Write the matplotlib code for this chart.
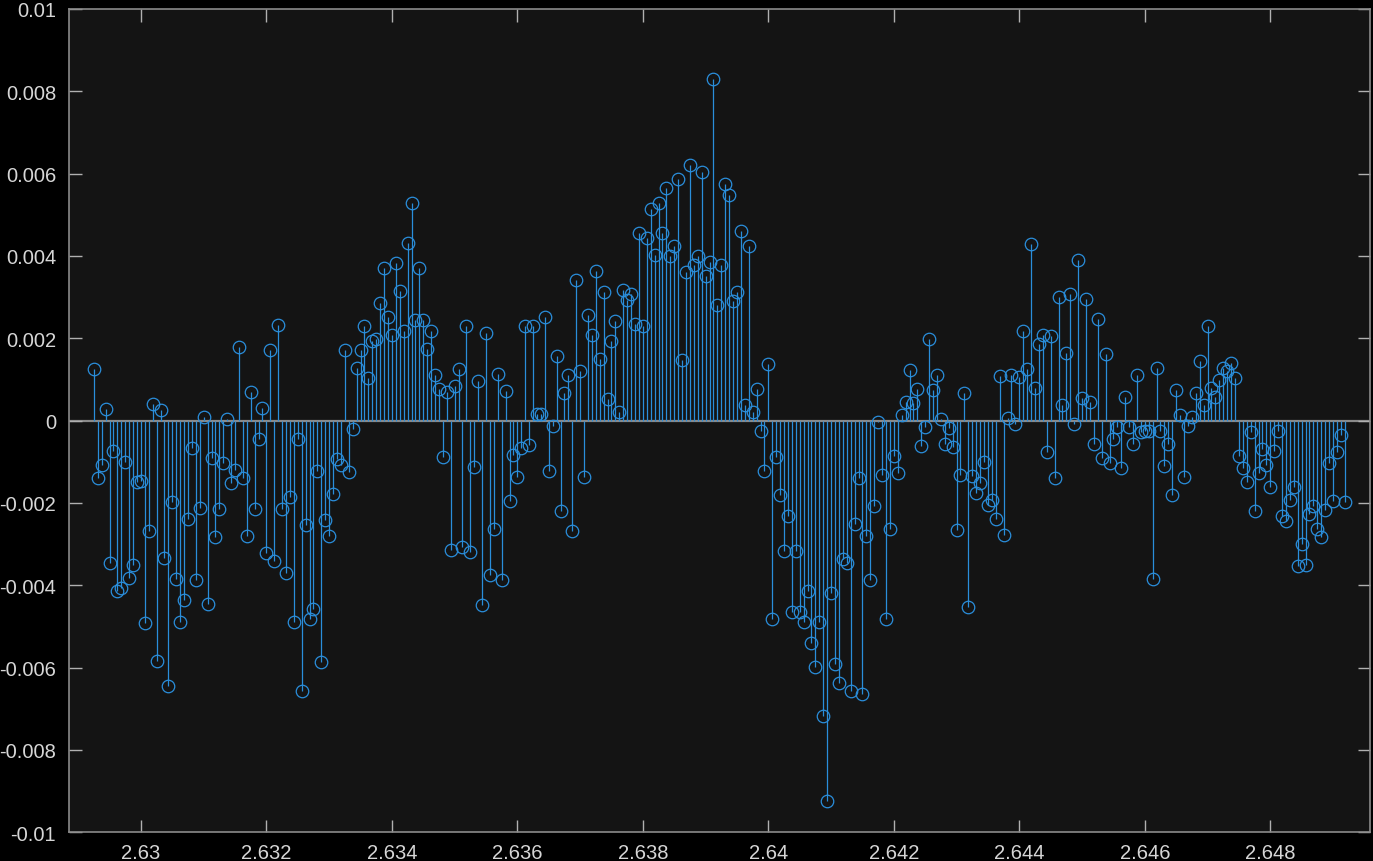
import numpy as np
import matplotlib.pyplot as plt

# signal window: 320 samples at 16 kHz, starting at t = 2.62925 s
T_START = 2.62925
FS = 16000

amp_a = [0.00125, -0.00139, -0.00108, 0.000275, -0.00346, -0.00074, -0.00415, -0.00407,
         -0.00101, -0.00382, -0.00351, -0.00148, -0.00147, -0.00491, -0.00268, 0.0004,
         -0.00584, 0.00026, -0.00334, -0.00645, -0.00198, -0.00385, -0.00489, -0.00436,
         -0.00239, -0.00067, -0.00387, -0.00211, 0.00009, -0.00445, -0.00091, -0.00283,
         -0.00215, -0.00103, 0.00004, -0.00151, -0.00121, 0.0018, -0.00139, -0.0028]
amp_b = [0.00069, -0.00215, -0.00045, 0.0003, -0.00321, 0.00172, -0.00342, 0.00232,
         -0.00215, -0.0037, -0.00185, -0.00489, -0.00045, -0.00657, -0.00253, -0.00482,
         -0.00457, -0.00122, -0.00586, -0.00241, -0.0028, -0.00177, -0.00093, -0.00108,
         0.00172, -0.00125, -0.0002, 0.00127, 0.00172, 0.00229, 0.00103, 0.00194,
         0.00198, 0.00287, 0.0037, 0.00252, 0.00208, 0.00384, 0.00314, 0.00217]
amp_c = [0.00431, 0.00528, 0.00244, 0.0037, 0.00244, 0.00175, 0.00217, 0.00112,
         0.00076, -0.00088, 0.00069, -0.00314, 0.00085, 0.00125, -0.00306, 0.0023,
         -0.00319, -0.00113, 0.00097, -0.00447, 0.00214, -0.00374, -0.00264, 0.00114,
         -0.00386, 0.00073, -0.00195, -0.00083, -0.00136, -0.00066, 0.00231, -0.00058,
         0.0023, 0.00015, 0.00015, 0.00251, -0.00123, -0.00014, 0.00157, -0.0022]
amp_d = [0.00067, 0.0011, -0.00268, 0.00341, 0.0012, -0.00138, 0.00256, 0.00208,
         0.00363, 0.00149, 0.00312, 0.00052, 0.00193, 0.00242, 0.0002, 0.00317,
         0.00294, 0.00307, 0.00235, 0.00457, 0.0023, 0.00444, 0.00514, 0.00402,
         0.00529, 0.00456, 0.00565, 0.004, 0.00425, 0.00587, 0.00148, 0.00362,
         0.00622, 0.00379, 0.004, 0.00603, 0.00352, 0.00385, 0.00831, 0.00281]
amp_e = [0.00377, 0.00575, 0.00548, 0.0029, 0.00313, 0.0046, 0.00039, 0.00424,
         0.00022, 0.00076, -0.00025, -0.00123, 0.00138, -0.00482, -0.00089, -0.0018,
         -0.00317, -0.00231, -0.00464, -0.00317, -0.00464, -0.00489, -0.00413, -0.00541,
         -0.00599, -0.00489, -0.00718, -0.00925, -0.00418, -0.0059, -0.00638, -0.00335,
         -0.00347, -0.00657, -0.00251, -0.0014, -0.00664, -0.0028, -0.00388, -0.00208]
amp_f = [-0.00004, -0.00133, -0.00483, -0.00264, -0.00087, -0.00127, 0.00014, 0.00045,
         0.00122, 0.00043, 0.00076, -0.00062, -0.00015, 0.00198, 0.00075, 0.00111,
         0.00004, -0.00057, -0.00019, -0.00065, -0.00266, -0.00133, 0.00067, -0.00453,
         -0.00135, -0.00176, -0.00152, -0.00101, -0.00205, -0.00192, -0.00239, 0.00109,
         -0.00278, 0.00007, 0.0011, -0.00009, 0.00105, 0.00218, 0.00126, 0.0043]
amp_g = [0.00079, 0.00187, 0.00208, -0.00076, 0.00205, -0.0014, 0.003, 0.00038,
         0.00164, 0.00307, -0.00008, 0.0039, 0.00055, 0.00295, 0.00045, -0.00057,
         0.00247, -0.00091, 0.00161, -0.00103, -0.00045, -0.00016, -0.00115, 0.00058,
         -0.00016, -0.00057, 0.0011, -0.00027, -0.00025, -0.00025, -0.00385, 0.00127,
         -0.00025, -0.0011, -0.00057, -0.00181, 0.00074, 0.00014, -0.00138, -0.00012]
amp_h = [0.00008, 0.00066, 0.00144, 0.00038, 0.00229, 0.00079, 0.00057, 0.00099,
         0.00127, 0.00121, 0.00139, 0.00103, -0.00085, -0.00115, -0.00148, -0.00028,
         -0.00219, -0.00127, -0.00069, -0.00108, -0.00161, -0.00074, -0.00026, -0.00232,
         -0.00244, -0.00193, -0.00161, -0.00354, -0.003, -0.00351, -0.00227, -0.00207,
         -0.00263, -0.00283, -0.00217, -0.00103, -0.00194, -0.00077, -0.00036, -0.00198]

x_ticks = [2.63, 2.632, 2.634, 2.636, 2.638, 2.64, 2.642, 2.644, 2.646, 2.648]
x_labels = ["2.63", "2.632", "2.634", "2.636", "2.638", "2.64", "2.642", "2.644", "2.646", "2.648"]
y_ticks = [-0.01, -0.008, -0.006, -0.004, -0.002, 0, 0.002, 0.004, 0.006, 0.008, 0.01]
y_labels = ["-0.01", "-0.008", "-0.006", "-0.004", "-0.002", "0",
            "0.002", "0.004", "0.006", "0.008", "0.01"]

amp = np.array(amp_a + amp_b + amp_c + amp_d + amp_e + amp_f + amp_g + amp_h)
t = T_START + np.arange(len(amp)) / FS

BLUE = "#2a8edb"
GRID_GRAY = "#8a8a8a"
TEXT = "#d6d6d6"

plt.rcParams["font.family"] = ["Liberation Sans", "DejaVu Sans"]

fig = plt.figure(figsize=(13.73, 8.62), dpi=100, facecolor="black")
ax = fig.add_axes([0.050, 0.0333, 0.9478, 0.9551])
ax.set_facecolor("#141414")

ax.axhline(0, color=GRID_GRAY, linewidth=1.6, zorder=1)
markerline, stemlines, baseline = ax.stem(t, amp)
baseline.set_visible(False)
stemlines.set_color(BLUE)
stemlines.set_linewidth(0.9)
markerline.set_marker("o")
markerline.set_markersize(9)
markerline.set_markerfacecolor("none")
markerline.set_markeredgecolor(BLUE)
markerline.set_markeredgewidth(0.9)

ax.set_xlim(2.628848, 2.649589)
ax.set_ylim(-0.01, 0.01)
ax.set_xticks(x_ticks)
ax.set_xticklabels(x_labels)
ax.set_yticks(y_ticks)
ax.set_yticklabels(y_labels)

ax.tick_params(direction="in", length=9, width=1, color="#b0b0b0",
               labelcolor=TEXT, labelsize=14.5, top=True, right=True)
ax.tick_params(axis="x", pad=8)
ax.tick_params(axis="y", pad=9)
for s in ax.spines.values():
    s.set_color(GRID_GRAY)
    s.set_linewidth(1.2)

fig.savefig("out.png", dpi=100, facecolor=fig.get_facecolor())
